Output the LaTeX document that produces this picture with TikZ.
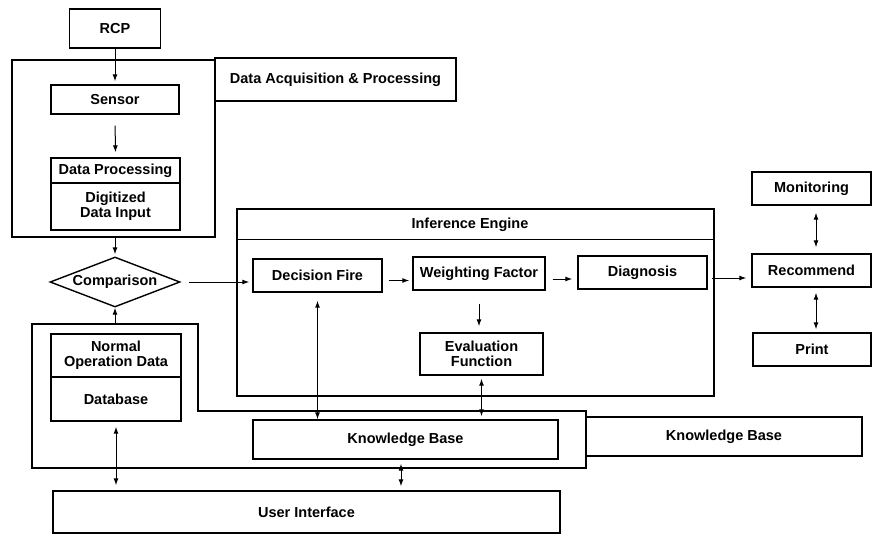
\documentclass[tikz,border=0pt]{standalone}
\usepackage{fontspec}
\setmainfont{Liberation Sans}
\usetikzlibrary{shapes.geometric,arrows.meta}
\newcommand\lblfont{\fontsize{14.5}{15}\selectfont\bfseries}
\begin{document}
\begin{tikzpicture}[x=1pt,y=-1pt,
  box/.style={draw,rectangle,line width=1.4pt,inner sep=0pt,align=center,font=\lblfont},
  frame/.style={draw,rectangle,line width=1.4pt,inner sep=0pt},
  frameline/.style={line width=1.4pt},
  tip/.tip={Latex[length=7pt,width=5pt]},
  arr/.style={-tip,line width=1pt},
  darr/.style={tip-tip,line width=1pt}]
\useasboundingbox[fill=white] (0,0) rectangle (873,536);

% data acquisition block
\node[box,minimum width=91pt,minimum height=39pt] (rcp) at (115,28.5) {RCP};
\node[frame,minimum width=203pt,minimum height=177pt] (daq) at (113.5,148.5) {};
\node[box,minimum width=241pt,minimum height=43pt] (dal) at (335.5,79.5) {Data Acquisition \& Processing};
\node[box,minimum width=128pt,minimum height=29pt] (sensor) at (115,99.5) {Sensor};
\node[box,minimum width=129pt,minimum height=25pt] (dp) at (115.5,170.5) {Data Processing};
\node[box,minimum width=129pt,minimum height=47pt] (ddi) at (115.5,206.5) {Digitized\\Data Input};

% comparison
\node[draw,diamond,aspect=2.6,line width=1.4pt,minimum width=130pt,minimum height=50pt,inner sep=0pt,font=\lblfont] (cmp) at (115,282) {Comparison};

% inference engine
\node[frame,minimum width=477pt,minimum height=187pt] (ie) at (475.5,302.5) {};
\draw[frameline] ([yshift=-31pt]ie.north west) -- ([yshift=-31pt]ie.north east);
\node[font=\lblfont] (iet) at (470,225) {Inference Engine};
\node[box,minimum width=129pt,minimum height=33pt] (df) at (317.5,275.5) {Decision Fire};
\node[box,minimum width=132pt,minimum height=33pt] (wf) at (479,273.5) {Weighting Factor};
\node[box,minimum width=129pt,minimum height=33pt] (dg) at (642.5,272.5) {Diagnosis};
\node[box,minimum width=123pt,minimum height=42pt] (ef) at (481.5,354) {Evaluation\\Function};

% output side
\node[box,minimum width=119pt,minimum height=33pt] (mon) at (811.5,188.5) {Monitoring};
\node[box,minimum width=119pt,minimum height=33pt] (rec) at (811.5,270.5) {Recommend};
\node[box,minimum width=118pt,minimum height=33pt] (prt) at (812,349.5) {Print};

% knowledge base block
\draw[frameline] (32,324) -- (198,324) -- (198,411) -- (586,411) -- (586,468) -- (32,468) -- cycle;
\coordinate (kbtop) at (115,324);
\node[box,minimum width=130pt,minimum height=43pt] (nod) at (116,355.5) {Normal\\Operation Data};
\node[box,minimum width=130pt,minimum height=44pt] (db) at (116,399) {Database};
\node[box,minimum width=305pt,minimum height=39pt] (kb) at (405.5,439.5) {Knowledge Base};
\node[box,minimum width=276pt,minimum height=39pt] (kbl) at (724,436.5) {Knowledge Base};

% user interface
\node[box,minimum width=507pt,minimum height=42pt] (ui) at (306.5,512) {User Interface};

% connectors
\draw[arr,shorten >=3pt] (rcp.south) -- (sensor.north);
\draw[arr,shorten <=11pt,shorten >=5pt] (sensor.south) -- (dp.north);
\draw[arr,shorten >=2pt] (daq.south -| cmp.north) -- (cmp.north);
\draw[arr,shorten <=8pt,shorten >=3pt] (cmp.east) -- (cmp.east -| df.west);
\draw[arr,shorten <=6pt,shorten >=3pt] ([yshift=-5pt]df.east) -- ([yshift=-5pt]df.east -| wf.west);
\draw[arr,shorten <=7pt,shorten >=5pt] ([yshift=-5.5pt]wf.east) -- ([yshift=-5.5pt]wf.east -| dg.west);
\draw[arr,shorten <=13pt,shorten >=6pt] (wf.south) -- (wf.south |- ef.north);
\draw[darr,shorten <=3pt,shorten >=3pt] (ef.south) -- (ef.south |- kb.north);
\draw[darr,shorten <=8pt] (df.south) -- (df.south |- kb.north);
\draw[arr] (kbtop) -- (cmp.south);
\draw[darr,shorten <=5pt,shorten >=5pt] (db.south) -- (db.south |- ui.north);
\draw[darr,shorten <=4pt,shorten >=4pt] ([xshift=-4.5pt]kb.south) -- ([xshift=-4.5pt]kb.south |- ui.north);
\draw[arr,shorten <=4pt,shorten >=5pt] ([yshift=-5.5pt]dg.east) -- ([yshift=-5.5pt]dg.east -| rec.west);
\draw[darr,shorten <=7pt,shorten >=6pt] ([xshift=4.5pt]mon.south) -- ([xshift=4.5pt]mon.south |- rec.north);
\draw[darr,shorten <=5pt,shorten >=3pt] ([xshift=4.5pt]rec.south) -- ([xshift=4.5pt]rec.south |- prt.north);
\end{tikzpicture}
\end{document}
